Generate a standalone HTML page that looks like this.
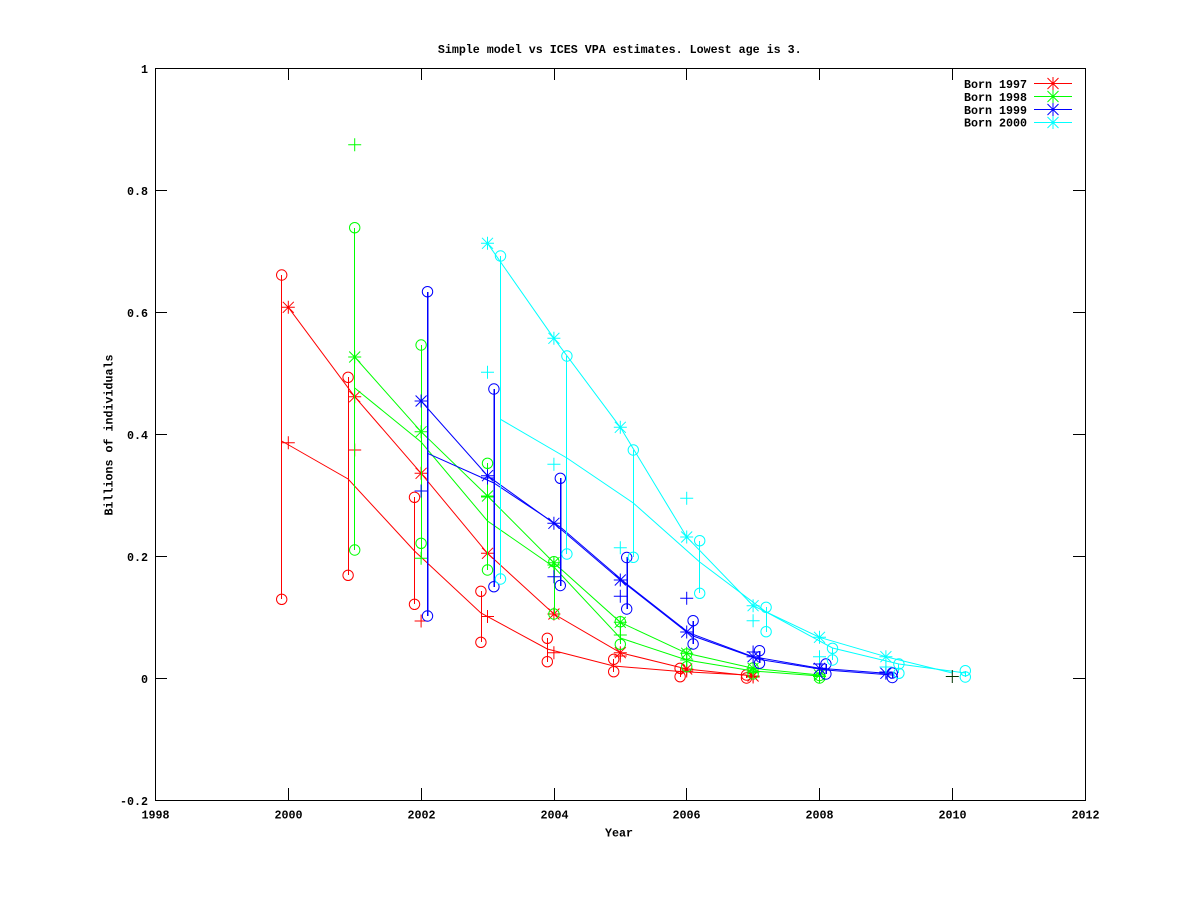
<!DOCTYPE html>
<html><head><meta charset="utf-8"><style>
html,body{margin:0;padding:0;background:#fff;}
svg{display:block;}
text{font-family:"Liberation Mono",monospace;font-weight:bold;font-size:11.67px;fill:#000;}
</style></head><body>
<svg width="1200" height="900" viewBox="0 0 1200 900" xmlns="http://www.w3.org/2000/svg">
<defs>
<path id="pl" d="M-6.5,0H6.5M0,-6.5V6.5"/>
<path id="st" d="M-6.5,0H6.5M0,-6.5V6.5M-5.5,-5.5L5.5,5.5M-5.5,5.5L5.5,-5.5"/>
<circle id="ci" cx="0" cy="0" r="5.2"/>
</defs>
<rect width="1200" height="900" fill="#fff"/>
<text x="619.7" y="53" text-anchor="middle">Simple model vs ICES VPA estimates. Lowest age is 3.</text>

<!-- axes -->
<g stroke="#000" stroke-width="1" fill="none" shape-rendering="crispEdges">
<rect x="155.5" y="68.5" width="930" height="732"/>
<path d="M155,190.5H167M155,312.5H167M155,434.5H167M155,556.5H167M155,678.5H167
M1085,190.5H1073M1085,312.5H1073M1085,434.5H1073M1085,556.5H1073M1085,678.5H1073
M288.5,800V788M421.5,800V788M554.5,800V788M686.5,800V788M819.5,800V788M952.5,800V788
M288.5,68V80M421.5,68V80M554.5,68V80M686.5,68V80M819.5,68V80M952.5,68V80"/>
</g>
<g text-anchor="end">
<text x="148" y="73">1</text>
<text x="148" y="195">0.8</text>
<text x="148" y="317">0.6</text>
<text x="148" y="439">0.4</text>
<text x="148" y="561">0.2</text>
<text x="148" y="683">0</text>
<text x="148" y="805">-0.2</text>
</g>
<g text-anchor="middle">
<text x="155.5" y="818.5">1998</text>
<text x="288.5" y="818.5">2000</text>
<text x="421.5" y="818.5">2002</text>
<text x="554.5" y="818.5">2004</text>
<text x="686.5" y="818.5">2006</text>
<text x="819.5" y="818.5">2008</text>
<text x="952.5" y="818.5">2010</text>
<text x="1085.5" y="818.5">2012</text>
<text x="619" y="836.5">Year</text>
<text transform="translate(112.5,435) rotate(-90)" x="0" y="0">Billions of individuals</text>
</g>

<!-- RED 1997 -->
<g stroke="#ff0000" stroke-width="1" fill="none">
<path shape-rendering="crispEdges" d="M281.5,275V599M348.5,377V575M414.5,497V604M481.5,591V642M547.5,638V662M613.5,659V672M680.5,668V677M746.5,675V678"/>
<polyline points="288.3,307.3 354.7,396.7 421.1,473.3 487.5,553.3 553.9,614 620.3,652.7 686.7,669 753.1,676"/>
<polyline points="281.7,441 348.1,479 414.5,551 480.9,613 547.3,649 613.7,666 680.1,671.5 746.5,675"/>
<use href="#st" x="288.3" y="307.3"/><use href="#st" x="354.7" y="396.7"/><use href="#st" x="421.1" y="473.3"/><use href="#st" x="487.5" y="553.3"/><use href="#st" x="553.9" y="614"/><use href="#st" x="620.3" y="652.7"/><use href="#st" x="686.7" y="669"/><use href="#st" x="753.1" y="676"/>
<use href="#pl" x="288.3" y="442.7"/><use href="#pl" x="354.7" y="450"/><use href="#pl" x="421.1" y="621"/><use href="#pl" x="487.5" y="616.5"/><use href="#pl" x="553.9" y="652.7"/><use href="#pl" x="620.3" y="656"/><use href="#pl" x="686.7" y="671"/><use href="#pl" x="753.1" y="677"/>
<use href="#ci" x="281.7" y="275"/><use href="#ci" x="281.7" y="599.3"/>
<use href="#ci" x="348.1" y="377.3"/><use href="#ci" x="348.1" y="575.3"/>
<use href="#ci" x="414.5" y="497.3"/><use href="#ci" x="414.5" y="604.3"/>
<use href="#ci" x="480.9" y="591.3"/><use href="#ci" x="480.9" y="642.3"/>
<use href="#ci" x="547.3" y="638.3"/><use href="#ci" x="547.3" y="661.7"/>
<use href="#ci" x="613.7" y="659.3"/><use href="#ci" x="613.7" y="671.7"/>
<use href="#ci" x="680.1" y="668.3"/><use href="#ci" x="680.1" y="676.7"/>
<use href="#ci" x="746.5" y="675"/><use href="#ci" x="746.5" y="678"/>
</g>

<!-- GREEN 1998 -->
<g stroke="#00ff00" stroke-width="1" fill="none">
<path shape-rendering="crispEdges" d="M354.5,228V550M421.5,345V558M487.5,463V570M554.5,562V614M620.5,622V644M686.5,654V667M753.5,668V674M819.5,675V678"/>
<polyline points="354.7,357 421.1,431.7 487.5,496 553.9,562.7 620.3,622.3 686.7,653.3 753.1,668.3 819.5,675"/>
<polyline points="354.7,388 421.1,442 487.5,521 553.9,567 620.3,638 686.7,660 753.1,671 819.5,676"/>
<use href="#st" x="354.7" y="357"/><use href="#st" x="421.1" y="431.7"/><use href="#st" x="487.5" y="496"/><use href="#st" x="553.9" y="562.7"/><use href="#st" x="620.3" y="622.3"/><use href="#st" x="686.7" y="653.3"/><use href="#st" x="753.1" y="668.3"/><use href="#st" x="819.5" y="675"/>
<use href="#pl" x="354.7" y="144.7"/><use href="#pl" x="421.1" y="558.3"/><use href="#pl" x="487.5" y="497"/><use href="#pl" x="553.9" y="565"/><use href="#pl" x="620.3" y="635"/><use href="#pl" x="686.7" y="660"/><use href="#pl" x="753.1" y="672"/><use href="#pl" x="819.5" y="676.5"/>
<use href="#ci" x="354.7" y="227.7"/><use href="#ci" x="354.7" y="550"/>
<use href="#ci" x="421.1" y="345"/><use href="#ci" x="421.1" y="543.3"/>
<use href="#ci" x="487.5" y="463.3"/><use href="#ci" x="487.5" y="570"/>
<use href="#ci" x="553.9" y="561.7"/><use href="#ci" x="553.9" y="614"/>
<use href="#ci" x="620.3" y="621.7"/><use href="#ci" x="620.3" y="644.3"/>
<use href="#ci" x="686.7" y="654"/><use href="#ci" x="686.7" y="666.7"/>
<use href="#ci" x="753.1" y="668"/><use href="#ci" x="753.1" y="674"/>
<use href="#ci" x="819.5" y="675.5"/><use href="#ci" x="819.5" y="678"/>
</g>

<!-- BLUE 1999 -->
<g stroke="#0000ff" stroke-width="1" fill="none">
<path shape-rendering="crispEdges" stroke-width="1.5" d="M427.5,292V616M494,389V587M560.5,478V586M627,557V609M693,621V644M759.5,651V663M826,664V674M892.5,673V678"/>
<polyline points="421.1,401 487.5,475.7 553.9,523.3 620.3,580 686.7,632 753.1,656.7 819.5,668.3 885.9,673.3"/>
<polyline points="427.5,453.3 493.9,483 560.3,527 626.7,584 693.1,636 759.5,659.5 825.9,670 892.3,675"/>
<use href="#st" x="421.1" y="401"/><use href="#st" x="487.5" y="475.7"/><use href="#st" x="553.9" y="523.3"/><use href="#st" x="620.3" y="580"/><use href="#st" x="686.7" y="632"/><use href="#st" x="753.1" y="656.7"/><use href="#st" x="819.5" y="668.3"/><use href="#st" x="885.9" y="673.3"/>
<use href="#pl" x="421.1" y="491"/><use href="#pl" x="487.5" y="478"/><use href="#pl" x="553.9" y="576.7"/><use href="#pl" x="620.3" y="596.3"/><use href="#pl" x="686.7" y="598.3"/><use href="#pl" x="753.1" y="652"/><use href="#pl" x="819.5" y="664"/><use href="#pl" x="885.9" y="672"/>
<use href="#ci" x="427.5" y="291.7"/><use href="#ci" x="427.5" y="616"/>
<use href="#ci" x="493.9" y="389"/><use href="#ci" x="493.9" y="586.7"/>
<use href="#ci" x="560.3" y="478.3"/><use href="#ci" x="560.3" y="585.5"/>
<use href="#ci" x="626.7" y="557.5"/><use href="#ci" x="626.7" y="609"/>
<use href="#ci" x="693.1" y="620.7"/><use href="#ci" x="693.1" y="644"/>
<use href="#ci" x="759.5" y="650.7"/><use href="#ci" x="759.5" y="663.3"/>
<use href="#ci" x="825.9" y="664"/><use href="#ci" x="825.9" y="674"/>
<use href="#ci" x="892.3" y="673"/><use href="#ci" x="892.3" y="677.5"/>
</g>

<!-- CYAN 2000 -->
<g stroke="#00ffff" stroke-width="1" fill="none">
<path shape-rendering="crispEdges" d="M500.5,256V579M566.5,356V554M633.5,450V557M699.5,541V593M766.5,607V632M832.5,648V660M898.5,664V673M965.5,671V677"/>
<polyline points="487.5,243.3 553.9,338.3 620.3,427.3 686.7,537 753.1,605.7 819.5,637.3 885.9,656.7 952.3,673"/>
<polyline points="500.5,419.3 566.9,458 633.3,503 699.7,562 766.1,612 832.5,648 898.9,664 965.3,673"/>
<use href="#st" x="487.5" y="243.3"/><use href="#st" x="553.9" y="338.3"/><use href="#st" x="620.3" y="427.3"/><use href="#st" x="686.7" y="537"/><use href="#st" x="753.1" y="605.7"/><use href="#st" x="819.5" y="637.3"/><use href="#st" x="885.9" y="656.7"/>
<use href="#pl" x="487.5" y="372.3"/><use href="#pl" x="553.9" y="464.3"/><use href="#pl" x="620.3" y="547.7"/><use href="#pl" x="686.7" y="498.3"/><use href="#pl" x="753.1" y="620.7"/><use href="#pl" x="819.5" y="656.7"/><use href="#pl" x="885.9" y="667"/>
<use href="#ci" x="500.5" y="256"/><use href="#ci" x="500.5" y="579"/>
<use href="#ci" x="566.9" y="356"/><use href="#ci" x="566.9" y="554"/>
<use href="#ci" x="633.3" y="450"/><use href="#ci" x="633.3" y="557.3"/>
<use href="#ci" x="699.7" y="540.7"/><use href="#ci" x="699.7" y="593.3"/>
<use href="#ci" x="766.1" y="607.3"/><use href="#ci" x="766.1" y="631.7"/>
<use href="#ci" x="832.5" y="648.3"/><use href="#ci" x="832.5" y="660"/>
<use href="#ci" x="898.9" y="664"/><use href="#ci" x="898.9" y="673.3"/>
<use href="#ci" x="965.3" y="670.7"/><use href="#ci" x="965.3" y="677"/>
</g>
<g stroke="#003300" stroke-width="1" fill="none"><use href="#pl" x="952.3" y="676.5"/></g>

<!-- legend -->
<g text-anchor="end">
<text x="1027" y="88">Born 1997</text>
<text x="1027" y="101">Born 1998</text>
<text x="1027" y="114">Born 1999</text>
<text x="1027" y="126.5">Born 2000</text>
</g>
<g stroke-width="1" fill="none">
<g stroke="#ff0000"><path shape-rendering="crispEdges" d="M1034,83.5H1072"/><use href="#st" x="1053" y="83.5"/></g>
<g stroke="#00ff00"><path shape-rendering="crispEdges" d="M1034,96.5H1072"/><use href="#st" x="1053" y="96.5"/></g>
<g stroke="#0000ff"><path shape-rendering="crispEdges" d="M1034,109.5H1072"/><use href="#st" x="1053" y="109.5"/></g>
<g stroke="#00ffff"><path shape-rendering="crispEdges" d="M1034,122.5H1072"/><use href="#st" x="1053" y="122.5"/></g>
</g>
</svg>
</body></html>
